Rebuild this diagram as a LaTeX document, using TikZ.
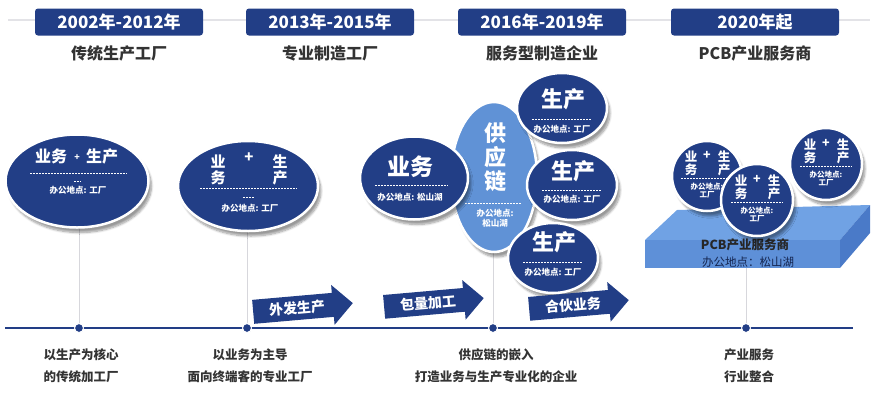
\documentclass[tikz,border=0pt]{standalone}
\usepackage{fontspec}
\setmainfont{Noto Sans CJK SC}
\usetikzlibrary{shapes.geometric,shapes.arrows,shadows.blur}

\definecolor{marine}{RGB}{34,62,134}
\definecolor{ciel}{RGB}{96,146,214}
\definecolor{encre}{RGB}{51,51,51}
\definecolor{trait}{RGB}{215,215,220}
\definecolor{dessus}{RGB}{112,162,228}
\definecolor{face}{RGB}{94,144,216}
\definecolor{flanc}{RGB}{74,122,200}

\tikzset{
  annee/.style={fill=marine, rounded corners=3pt, minimum width=168pt, minimum height=27pt, inner sep=0pt, text=white, font=\bfseries\fontsize{17}{17}\selectfont},
  titre/.style={text=encre, font=\bfseries\fontsize{16}{16}\selectfont},
  bas/.style={text=encre, align=center, font=\bfseries\fontsize{12.5}{22}\selectfont},
  bulle/.style={ellipse, fill=marine, draw=white, line width=2.5pt, inner sep=0pt, blur shadow={shadow xshift=3pt, shadow yshift=-5pt, shadow blur steps=8}},
  grand/.style={text=white, inner sep=0pt, font=\bfseries\fontsize{22}{22}\selectfont},
  moyen/.style={text=white, inner sep=0pt, font=\bfseries\fontsize{15}{15}\selectfont},
  petit/.style={text=white, inner sep=0pt, font=\bfseries\fontsize{8.5}{8.5}\selectfont},
  pointille/.style={white, line width=0.7pt, dash pattern=on 1.5pt off 1.5pt},
  fleche/.style={single arrow, fill=marine, text=white, single arrow head extend=8pt, minimum height=100pt, inner xsep=4pt, inner ysep=5pt, rotate=5, font=\bfseries\fontsize{14}{14}\selectfont},
  point/.style={circle, fill=marine, draw=white, line width=1pt, minimum size=9pt, inner sep=0pt},
  fil/.style={trait, line width=0.6pt}
}

% bulle ronde 业 + 生 / 务 产
\newcommand\service[4]{%
  \node[bulle, circle, minimum size=#4] (#1) at (#2,#3) {};
  \begin{scope}[shift={(#2,#3)}]
    \node[moyen, font=\bfseries\fontsize{12.5}{12.5}\selectfont] at (-16,-19) {业};
    \node[moyen, font=\bfseries\fontsize{12.5}{12.5}\selectfont] at (0,-21) {+};
    \node[moyen, font=\bfseries\fontsize{12.5}{12.5}\selectfont] at (17,-19) {生};
    \node[moyen, font=\bfseries\fontsize{12.5}{12.5}\selectfont] at (-16,-6) {务};
    \node[moyen, font=\bfseries\fontsize{12.5}{12.5}\selectfont] at (17,-6) {产};
    \draw[pointille] (-26,2) -- (26,2);
    \node[petit, font=\bfseries\fontsize{7.5}{7.5}\selectfont] at (0,11) {办公地点:};
    \node[petit, font=\bfseries\fontsize{7.5}{7.5}\selectfont] at (0,19) {工厂};
  \end{scope}}

\begin{document}
\begin{tikzpicture}[x=1pt, y=-1pt]
  \useasboundingbox (0,0) rectangle (877,400);

  % ligne du haut et les années
  \draw[trait!70, line width=1.5pt] (8,20) -- (870,20);
  \foreach \x/\an/\titre [count=\i] in {119/2002年-2012年/传统生产工厂, 330/2013年-2015年/专业制造工厂, 542/2016年-2019年/服务型制造企业, 755/2020年起/PCB产业服务商}{
    \node[annee] (an\i) at (\x,22) {\an};
    \node[titre] (titre\i) at (\x,53) {\titre};
  }

  % axe du temps
  \draw[marine, line width=2pt] (5,328) -- (853,328);
  \foreach \x [count=\i] in {79,247,493,746}
    \node[point] (p\i) at (\x,328) {};

  % le socle PCB
  \fill[dessus] (677,210) -- (870,205) -- (840,240) -- (645,240) -- cycle;
  \fill[face] (645,240) -- (840,240) -- (840,268) -- (645,268) -- cycle;
  \fill[flanc] (840,240) -- (870,205) -- (870,233) -- (840,268) -- cycle;
  \coordinate (socle) at (746,268);
  \node[text=black!85, font=\bfseries\fontsize{12.5}{12.5}\selectfont] (pcb) at (745,245) {PCB产业服务商};
  \node[text=marine!60!black, font=\fontsize{11.5}{11.5}\selectfont] (siege) at (748,262) {办公地点：松山湖};

  % fils gris
  \draw[fil] (79,222) -- (p1);
  \draw[fil] (247,228) -- (p2);
  \draw[fil] (493,250) -- (p3);
  \draw[fil] (socle) -- (p4);

  % 2002-2012
  \node[bulle, minimum width=143pt, minimum height=93pt] (o1) at (77,181) {};
  \node[moyen, font=\bfseries\fontsize{16}{16}\selectfont] at (51,156) {业务};
  \node[moyen, font=\bfseries\fontsize{9}{9}\selectfont] at (77,158) {+};
  \node[moyen, font=\bfseries\fontsize{16}{16}\selectfont] at (102,156) {生产};
  \draw[pointille] (30,173) -- (127,173);
  \draw[pointille] (74,181) -- (81,181);
  \node[petit] at (78,190) {办公地点: 工厂};

  % 2013-2015
  \node[bulle, minimum width=140pt, minimum height=90pt] (o2) at (248,186) {};
  \node[moyen] at (218,162) {业};
  \node[moyen] at (249,158) {+};
  \node[moyen] at (280,162) {生};
  \node[moyen] at (218,178) {务};
  \node[moyen] at (280,178) {产};
  \draw[pointille] (200,188) -- (297,188);
  \draw[pointille] (243,197) -- (254,197);
  \node[petit] at (250,208) {办公地点: 工厂};

  % 2016-2019
  \node[bulle, fill=ciel, minimum width=86pt, minimum height=150pt] (chaine) at (494,177) {};
  \node[grand] at (495,133) {供};
  \node[grand] at (495,157) {应};
  \node[grand] at (495,181) {链};
  \draw[pointille] (465,203) -- (522,203);
  \node[petit] at (495,213) {办公地点:};
  \node[petit] at (495,223) {松山湖};

  \node[bulle, minimum width=108pt, minimum height=83pt] (affaires) at (414,178) {};
  \node[grand, font=\bfseries\fontsize{23}{23}\selectfont] at (410,167) {业务};
  \draw[pointille] (375,185) -- (448,185);
  \node[petit] at (410,197) {办公地点: 松山湖};

  \foreach \x/\y/\ty/\ly/\py [count=\i] in {562/108/99/119/129, 572/185/171/190/199, 553/258/242/262/272}{
    \node[bulle, minimum width=90pt, minimum height=70pt] (prod\i) at (\x,\y) {};
    \node[grand] at (\x+1,\ty) {生产};
    \draw[pointille] (\x-30,\ly) -- (\x+30,\ly);
    \node[petit] at (\x,\py) {办公地点: 工厂};
  }

  % 2020
  \service{s1}{707}{176}{70pt}
  \service{s3}{826}{164}{72pt}
  \service{s2}{757}{200}{72pt}

  % flèches
  \node[fleche] (f1) at (297,308) {外发生产};
  \node[fleche] (f2) at (428,303) {包量加工};
  \node[fleche] (f3) at (573,305) {合伙业务};

  % textes du bas
  \node[bas] (b1) at (81,366) {以生产为核心\\的传统加工厂};
  \node[bas] (b2) at (250,366) {以业务为主导\\面向终端客的专业工厂};
  \node[bas] (b3) at (496,366) {供应链的嵌入\\打造业务与生产专业化的企业};
  \node[bas] (b4) at (749,366) {产业服务\\行业整合};
\end{tikzpicture}
\end{document}
